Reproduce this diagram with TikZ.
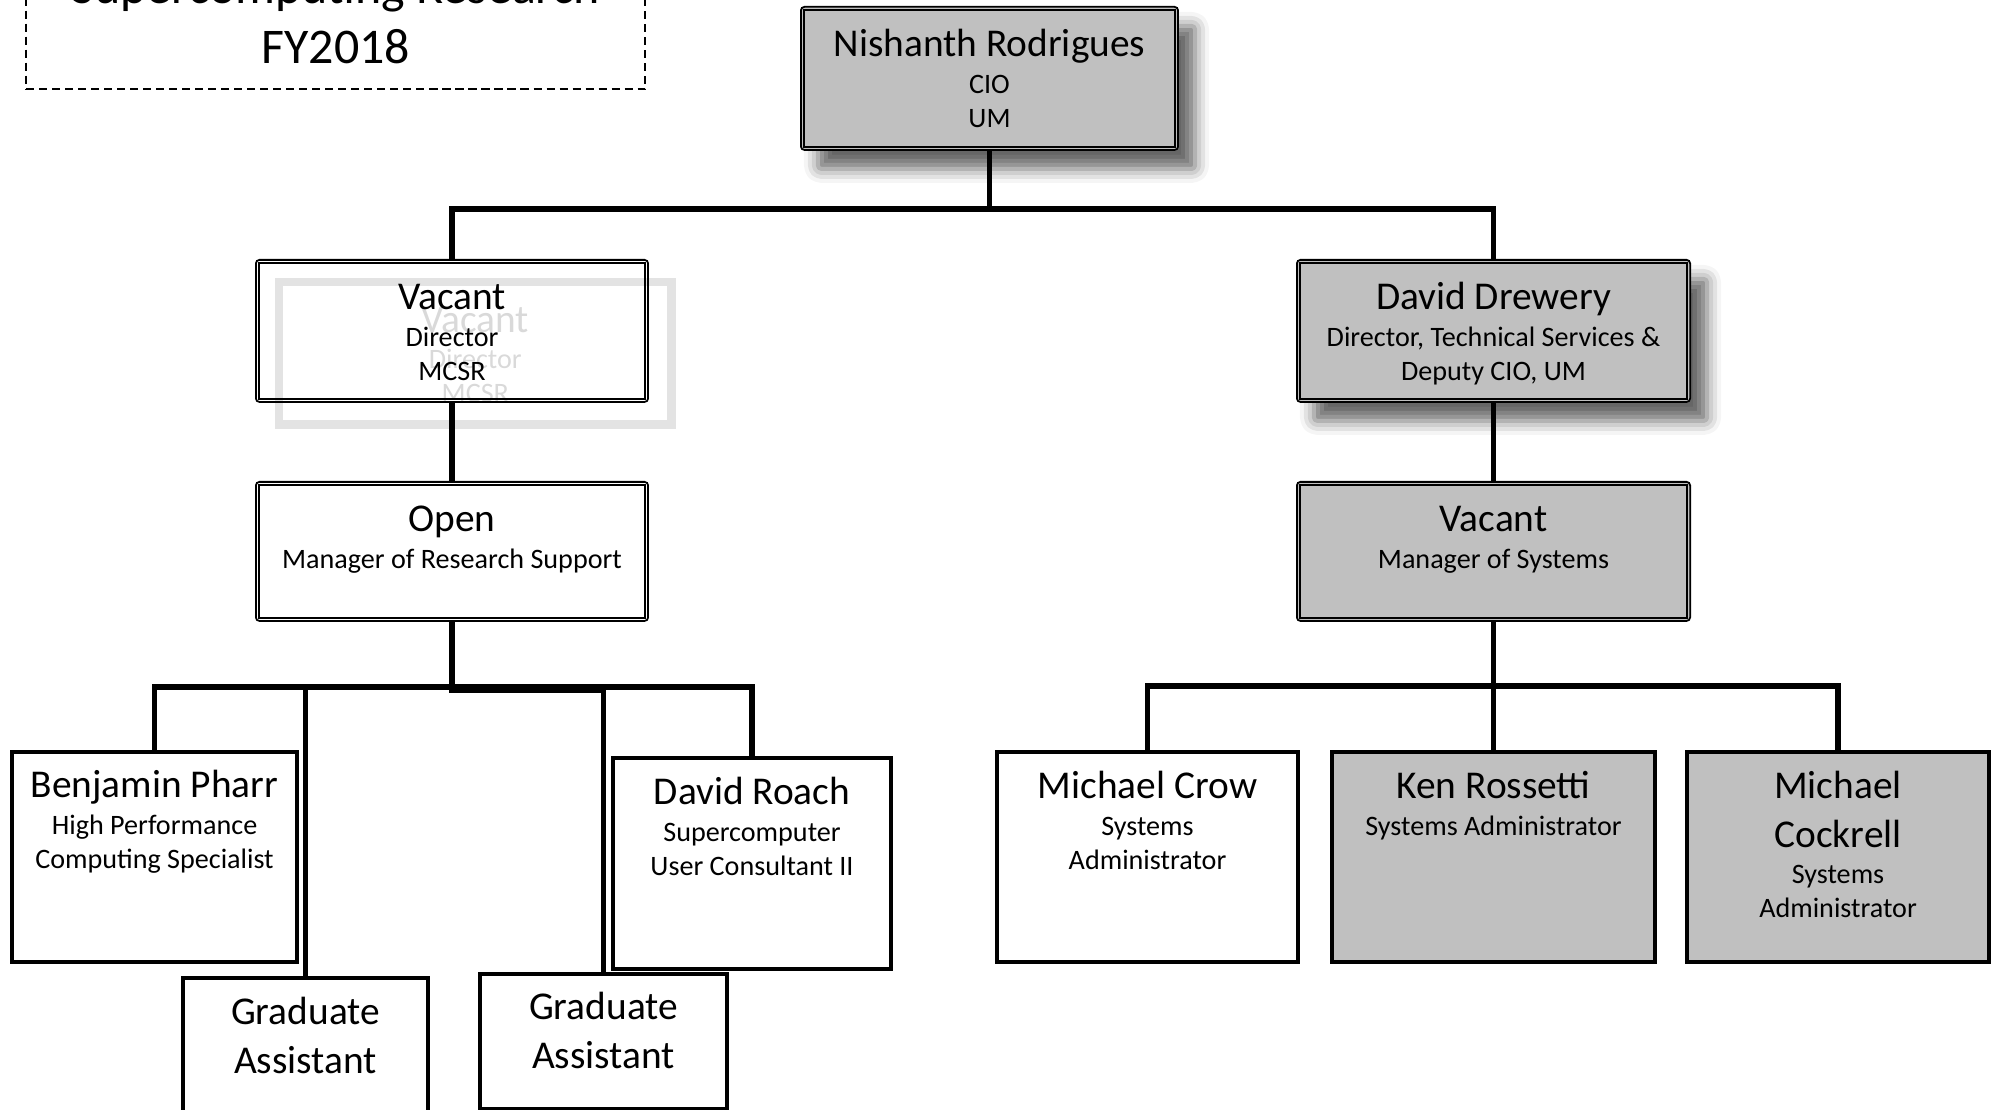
\documentclass[tikz,border=0pt]{standalone}
\usepackage{fontspec}
\setmainfont{Carlito}
\usetikzlibrary{positioning,shadows.blur}

\definecolor{boxgray}{RGB}{192,192,192}
\newcommand{\titlefont}{\fontsize{14.2}{17.3}\selectfont}
\newcommand{\namefont}{\fontsize{11.2}{13.7}\selectfont}
\newcommand{\rolefont}{\fontsize{8}{9.75}\selectfont}
% box text: width, height, baseline of first line, name, role
\newcommand{\person}[5]{\parbox[c][#2][t]{#1}{\centering
  {\namefont\rule{0pt}{#3}#4\par}\vspace{0.6pt}{\rolefont #5\par}}}

\tikzset{
  post/.style={draw, line width=0.5pt, rounded corners=1pt, inner sep=0pt, anchor=north west},
  staff/.style={draw, line width=1.1pt, inner sep=0pt, anchor=north west},
  shaded/.style={fill=boxgray},
  softshadow/.style={blur shadow={shadow xshift=0.17cm, shadow yshift=-0.19cm,
      shadow blur radius=0.14cm, shadow opacity=60}},
  ghost/.style={draw=black!11, line width=2.4pt, text=black!15, inner sep=0pt, anchor=north west},
  link/.style={line width=1.6pt},
}

\begin{document}
\begin{tikzpicture}[x=0.01cm, y=-0.01cm]
\useasboundingbox (0,0) rectangle (2000,1110);
\clip (0,0) rectangle (2000,1110);

% title
\node[draw, line width=0.6pt, dash pattern=on 2.3pt off 1.4pt, inner sep=0pt, anchor=north west] (title) at (25,-54)
  {\parbox[c][1.42cm][t]{6.19cm}{\centering\titlefont\rule{0pt}{0.56cm}Supercomputing Research\\FY2018}};

% upper levels
\node[post, shaded, softshadow] (nish) at (800,6) {\person{3.77cm}{1.43cm}{0.50cm}{Nishanth Rodrigues}{CIO\\UM}};
\node[ghost] (vdirghost) at (275,278) {\person{3.92cm}{1.42cm}{0.50cm}{Vacant}{Director\\MCSR}};
\node[post] (vdir) at (255,259) {\person{3.92cm}{1.42cm}{0.50cm}{Vacant}{Director\\MCSR}};
\node[post, shaded, softshadow] (drew) at (1296,259) {\person{3.93cm}{1.42cm}{0.50cm}{David Drewery}{Director, Technical Services \&\\Deputy CIO, UM}};
\node[post, fill=white] (open) at (255,481) {\person{3.92cm}{1.39cm}{0.50cm}{Open}{Manager of Research Support}};
\node[post, shaded] (vmgr) at (1296,481) {\person{3.93cm}{1.39cm}{0.50cm}{Vacant}{Manager of Systems}};
\foreach \n in {nish,vdir,drew,open,vmgr}
  \draw[line width=0.75pt] ([shift={(4,4)}]\n.north west) rectangle ([shift={(-4,-4)}]\n.south east);

% research support
\node[staff] (ben) at (10,750) {\person{2.85cm}{2.10cm}{0.46cm}{Benjamin Pharr}{High Performance\\Computing Specialist}};
\node[staff] (grad1) at (181,976) {\person{2.45cm}{1.50cm}{0.47cm}{Graduate\\Assistant}{}};
\node[staff] (grad2) at (478,972) {\person{2.47cm}{1.35cm}{0.46cm}{Graduate\\Assistant}{}};
\node[staff] (roach) at (611,756) {\person{2.78cm}{2.11cm}{0.47cm}{David Roach}{Supercomputer\\User Consultant II}};

% systems
\node[staff] (crow) at (995,750) {\person{3.01cm}{2.10cm}{0.47cm}{Michael Crow}{Systems\\Administrator}};
\node[staff, shaded] (ken) at (1330,750) {\person{3.23cm}{2.10cm}{0.47cm}{Ken Rossetti}{Systems Administrator}};
\node[staff, shaded] (cock) at (1685,750) {\person{3.02cm}{2.10cm}{0.47cm}{Michael\\Cockrell}{Systems\\Administrator}};

% lines
\draw[link] (nish.south) -- ++(0,58) -| (vdir.north);
\draw[link] (nish.south) -- ++(0,58) -| (drew.north);
\draw[link] (vdir.south) -- (open.north);
\draw[link] (drew.south) -- (vmgr.north);
\foreach \c in {ben,grad1,roach}
  \draw[link] (open.south) -- ++(0,65) -| (\c.north);
\draw[link] (open.south) -- ++(0,68) -| (grad2.north);
\foreach \c in {crow,ken,cock}
  \draw[link] (vmgr.south) -- ++(0,64) -| (\c.north);
\end{tikzpicture}
\end{document}
